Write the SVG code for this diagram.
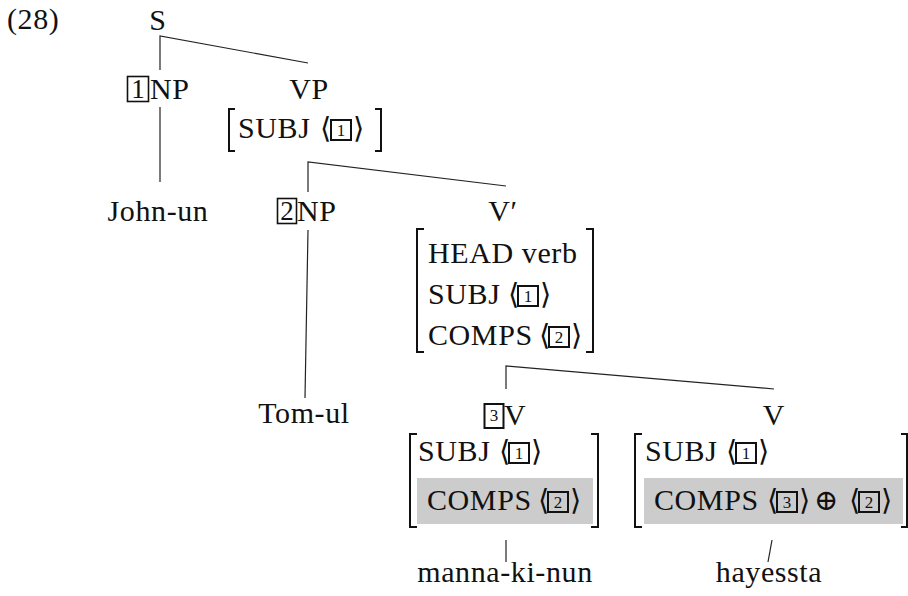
<svg xmlns="http://www.w3.org/2000/svg" width="908" height="596" viewBox="0 0 908 596">
  <style>
    text { font-family: "Liberation Serif", "DejaVu Serif", serif; font-size: 30px; fill: #111; letter-spacing: 0.6px; }
    .c { text-anchor: middle; }
    .sym { font-family: "DejaVu Serif", "Liberation Serif", serif; font-size: 29px; letter-spacing: 0; }
    .tagbig { fill: none; stroke: #111; stroke-width: 1.6; }
    .tag { fill: none; stroke: #111; stroke-width: 2; }
    .tagdigit { font-size: 17px; text-anchor: middle; letter-spacing: 0; }
    .bigdigit { font-size: 27px; text-anchor: middle; letter-spacing: 0; }
    .brk { fill: none; stroke: #111; stroke-width: 2; }
    .shade { fill: #cccccc; }
    .edge { fill: none; stroke: #222; stroke-width: 1.2; }
  </style>

  <text x="7" y="29">(28)</text>

  <!-- tree edges -->
  <g id="edges">
    <path class="edge" d="M160 70 V36 L308 63"/>
    <path class="edge" d="M160 107 V182"/>
    <path class="edge" d="M308 192 V162 L506 186"/>
    <path class="edge" d="M308 230 L305 398"/>
    <path class="edge" d="M506 389 V366 L774 389"/>
    <path class="edge" d="M506 540 V562"/>
    <path class="edge" d="M772 540 L768 562"/>
  </g>

  <g id="s">
    <text class="c" x="158" y="30">S</text>
  </g>

  <g id="np1">
    <rect class="tagbig" x="127.5" y="76.5" width="21" height="25"/>
    <text class="bigdigit" x="138" y="98">1</text>
    <text x="150" y="99">NP</text>
  </g>

  <g id="vp">
    <text class="c" x="309" y="99">VP</text>
    <path class="brk" d="M235 109 H229 V151 H235"/>
    <text x="238" y="138">SUBJ</text>
    <text class="sym" x="320" y="138">⟨</text>
    <rect class="tag" x="331" y="120" width="20" height="20"/>
    <text class="tagdigit" x="341" y="136">1</text>
    <text class="sym" x="353" y="138">⟩</text>
    <path class="brk" d="M375 109 H381 V151 H375"/>
  </g>

  <g id="john">
    <text class="c" x="158" y="221">John-un</text>
  </g>

  <g id="np2">
    <rect class="tagbig" x="277.5" y="198.5" width="19" height="25"/>
    <text class="bigdigit" x="287" y="220">2</text>
    <text x="297" y="221">NP</text>
  </g>

  <g id="vbar">
    <text class="c" x="503" y="221">V′</text>
    <path class="brk" d="M424 229 H417 V352 H424"/>
    <text x="428" y="263">HEAD verb</text>
    <text x="428" y="304">SUBJ</text>
    <text class="sym" x="508" y="304">⟨</text>
    <rect class="tag" x="518" y="286" width="20" height="20"/>
    <text class="tagdigit" x="528" y="302">1</text>
    <text class="sym" x="540" y="304">⟩</text>
    <text x="428" y="345">COMPS</text>
    <text class="sym" x="539" y="345">⟨</text>
    <rect class="tag" x="549" y="327" width="20" height="20"/>
    <text class="tagdigit" x="559" y="343">2</text>
    <text class="sym" x="571" y="345">⟩</text>
    <path class="brk" d="M586 229 H593 V352 H586"/>
  </g>

  <g id="tom">
    <text class="c" x="304" y="423">Tom-ul</text>
  </g>

  <g id="v3">
    <rect class="tag" x="484.5" y="404" width="19" height="24"/>
    <text class="tagdigit" x="494" y="421">3</text>
    <text x="504" y="425">V</text>
    <path class="brk" d="M417 434 H410 V527 H417"/>
    <text x="418" y="461">SUBJ</text>
    <text class="sym" x="499" y="461">⟨</text>
    <rect class="tag" x="509" y="443" width="20" height="20"/>
    <text class="tagdigit" x="519" y="459">1</text>
    <text class="sym" x="531" y="461">⟩</text>
    <rect class="shade" x="417" y="478" width="176" height="46"/>
    <text x="427" y="510">COMPS</text>
    <text class="sym" x="538" y="510">⟨</text>
    <rect class="tag" x="548" y="492" width="20" height="20"/>
    <text class="tagdigit" x="558" y="508">2</text>
    <text class="sym" x="570" y="510">⟩</text>
    <path class="brk" d="M591 434 H598 V527 H591"/>
  </g>

  <g id="v">
    <text class="c" x="774" y="425">V</text>
    <path class="brk" d="M642 434 H635 V527 H642"/>
    <text x="645" y="461">SUBJ</text>
    <text class="sym" x="726" y="461">⟨</text>
    <rect class="tag" x="736" y="443" width="20" height="20"/>
    <text class="tagdigit" x="746" y="459">1</text>
    <text class="sym" x="758" y="461">⟩</text>
    <rect class="shade" x="644" y="478" width="259" height="46"/>
    <text x="654" y="510">COMPS</text>
    <text class="sym" x="767" y="510">⟨</text>
    <rect class="tag" x="777" y="492" width="20" height="20"/>
    <text class="tagdigit" x="787" y="508">3</text>
    <text class="sym" x="799" y="510">⟩</text>
    <text class="sym" x="814" y="510">⊕</text>
    <text class="sym" x="849" y="510">⟨</text>
    <rect class="tag" x="859" y="492" width="20" height="20"/>
    <text class="tagdigit" x="869" y="508">2</text>
    <text class="sym" x="881" y="510">⟩</text>
    <path class="brk" d="M901 434 H907 V527 H901"/>
  </g>

  <g id="manna">
    <text class="c" x="505" y="582">manna-ki-nun</text>
  </g>

  <g id="hayessta">
    <text class="c" x="769" y="582">hayessta</text>
  </g>
</svg>
